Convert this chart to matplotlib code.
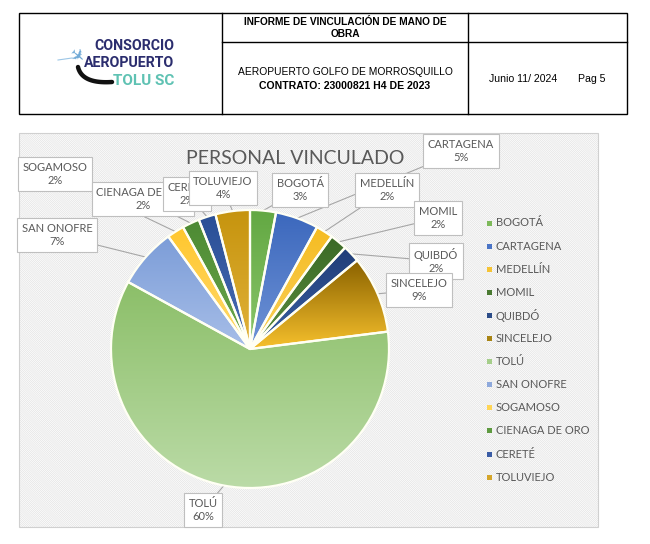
import numpy as np
import matplotlib
matplotlib.use("Agg")
import matplotlib.pyplot as plt
from matplotlib.patches import Rectangle
from matplotlib.colors import to_rgb

# ---------------- data ----------------
categories = ["BOGOTÁ", "CARTAGENA", "MEDELLÍN", "MOMIL", "QUIBDÓ", "SINCELEJO",
              "TOLÚ", "SAN ONOFRE", "SOGAMOSO", "CIENAGA DE ORO", "CERETÉ", "TOLUVIEJO"]
values = [3, 5, 2, 2, 2, 9, 60, 7, 2, 2, 2, 4]
chart_title = "PERSONAL VINCULADO"

header_title = "INFORME DE VINCULACIÓN DE MANO DE\nOBRA"
header_project = "AEROPUERTO GOLFO DE MORROSQUILLO"
header_contract = "CONTRATO: 23000821 H4 DE 2023"
header_date = "Junio 11/ 2024"
header_page = "Pag 5"

# ---------------- styles / layout ----------------
top_colors = ["#63A843", "#3C68BD", "#F5BC22", "#3B6A26", "#213E78", "#8A6200",
              "#8CBF69", "#7C9DD8", "#FFC72E", "#4D8A33", "#2A4F96", "#C6940E"]
bot_colors = ["#8BC66A", "#6F93D6", "#FAD05A", "#5B8D3F", "#3A5FA3", "#F6C02C",
              "#BBDBA7", "#A7BEE8", "#FFDA6E", "#6BA84C", "#4A6DB5", "#E2B23A"]
legend_colors = ["#7DB95A", "#4A74C6", "#F5C335", "#4A7A32", "#2C4C88", "#A88414",
                 "#A5CE8A", "#8EA9DC", "#FFD555", "#5E9A40", "#3A5CA5", "#D4A52A"]
# label text centres (image pixel coords)
label_pos = [(300, 190), (461, 151), (387, 190), (438, 218), (436, 261), (419, 290),
             (203, 510), (57, 235), (55, 174), (143, 199), (187, 194), (223, 188)]

W, H = 650, 544
fig = plt.figure(figsize=(W / 100, H / 100), dpi=100)
ax = fig.add_axes([0, 0, 1, 1])
ax.set_xlim(0, W)
ax.set_ylim(H, 0)
ax.axis("off")

GRAY_TXT = "#595959"
LABEL_FONT = ["Lato", "DejaVu Sans"]

# ---------------- header table ----------------
lw = 1.0
ax.add_patch(Rectangle((19, 13), 627 - 19, 114 - 13, fill=False, ec="black", lw=lw, zorder=5))
ax.plot([222, 222], [13, 114], color="black", lw=lw, zorder=5)
ax.plot([468, 468], [13, 114], color="black", lw=lw, zorder=5)
ax.plot([222, 627], [42, 42], color="black", lw=lw, zorder=5)

HFONT = ["Liberation Sans", "DejaVu Sans"]
ax.text(345, 28, header_title, ha="center", va="center", fontsize=7.3,
        fontweight="bold", family=HFONT, linespacing=1.15)
ax.text(345, 72, header_project, ha="center", va="center", fontsize=7.4, family=HFONT)
ax.text(345, 86, header_contract, ha="center", va="center", fontsize=7.6,
        fontweight="bold", family=HFONT)
ax.text(523, 79, header_date, ha="center", va="center", fontsize=7.6, family=HFONT)
ax.text(592, 79, header_page, ha="center", va="center", fontsize=7.6, family=HFONT)

# logo
LOGO_FONT = ["Roboto", "DejaVu Sans"]
ax.text(174, 46, "CONSORCIO", ha="right", va="center", fontsize=10.2, fontweight="bold",
        family=LOGO_FONT, color="#2B2D6E")
ax.text(174, 63, "AEROPUERTO", ha="right", va="center", fontsize=10.2, fontweight="bold",
        family=LOGO_FONT, color="#2B2D6E")
ax.text(174, 81, "TOLU SC", ha="right", va="center", fontsize=11, fontweight="bold",
        family=LOGO_FONT, color="#5FC2B3")
ax.text(76, 58, "✈", ha="center", va="center", fontsize=13, color="#6FA9D6",
        family=["DejaVu Sans"], rotation=-40)
ax.plot([58, 72], [60, 58], color="#9CC6E6", lw=0.8)
t = np.linspace(0, 1, 40)
bx = (1 - t) ** 2 * 78 + 2 * (1 - t) * t * 82 + t ** 2 * 112
by = (1 - t) ** 2 * 67 + 2 * (1 - t) * t * 84 + t ** 2 * 82
ax.plot(bx, by, color="#111111", lw=3.2, solid_capstyle="round")

# ---------------- chart area ----------------
plt.rcParams["hatch.linewidth"] = 0.5
ax.add_patch(Rectangle((19, 133), 598 - 19, 527 - 133, fc="#FFFFFF", ec="#E2E2E2",
                       lw=0, hatch="\\" * 16, zorder=1))
ax.add_patch(Rectangle((19, 133), 598 - 19, 527 - 133, fill=False, ec="#D0D0D0",
                       lw=0.8, zorder=2))

ax.text(295, 158, chart_title, ha="center", va="center", fontsize=14,
        color=GRAY_TXT, family=["Lato", "DejaVu Sans"], zorder=3)

# pie (y axis inverted -> counterclock=True is visually clockwise, -90 is 12 o'clock)
cx, cy, R = 250, 349, 139
wedges, _ = ax.pie(values, center=(cx, cy), radius=R, startangle=-90, counterclock=True,
                   colors=legend_colors, frame=True,
                   wedgeprops=dict(edgecolor="#FFFFF4", linewidth=1.6, zorder=4))
for w, c0, c1 in zip(wedges, top_colors, bot_colors):
    v = w.get_path().vertices
    y0, y1 = v[:, 1].min(), v[:, 1].max()
    x0, x1 = v[:, 0].min(), v[:, 0].max()
    a = np.array(to_rgb(c0)); b = np.array(to_rgb(c1))
    s = np.linspace(0, 1, 64)[:, None]
    grad = (a * (1 - s) + b * s)[:, None, :]
    im = ax.imshow(grad, extent=(x0, x1, y1, y0), origin="upper", aspect="auto",
                   interpolation="bilinear", zorder=4.5)
    im.set_clip_path(w)
    w.set_zorder(5)
    w.set_facecolor("none")

# data labels with leader lines
total = sum(values)
cum = 0
for i, (name, val) in enumerate(zip(categories, values)):
    mid = (cum + val / 2) / total * 2 * np.pi
    cum += val
    ex = cx + R * np.sin(mid)
    ey = cy - R * np.cos(mid)
    lx, ly = label_pos[i]
    ax.plot([lx, ex], [ly, ey], color="#A6A6A6", lw=0.8, zorder=3)
    pct = f"{round(100 * val / total):d}%"
    ax.text(lx, ly, f"{name}\n{pct}", ha="center", va="center", fontsize=8.0,
            color=GRAY_TXT, family=LABEL_FONT, linespacing=1.3, zorder=6 + i * 0.01,
            bbox=dict(boxstyle="square,pad=0.4", fc="white", ec="#BFBFBF", lw=0.8))

# legend
for i, (name, col) in enumerate(zip(categories, legend_colors)):
    y = 223 + i * 23.1
    ax.add_patch(Rectangle((487, y - 2.5), 5, 5, fc=col, ec="none", zorder=6))
    ax.text(496, y, name, ha="left", va="center", fontsize=8.0, color=GRAY_TXT,
            family=LABEL_FONT, zorder=6)

ax.set_xlim(0, W)
ax.set_ylim(H, 0)
ax.set_aspect("auto")
ax.set_position([0, 0, 1, 1])
fig.savefig("out.png", dpi=100, facecolor="white")
